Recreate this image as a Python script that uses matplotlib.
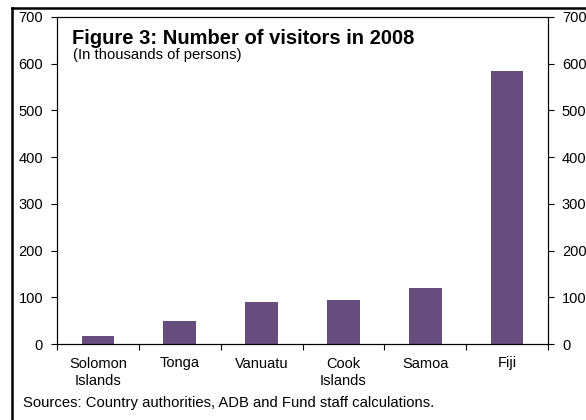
import matplotlib.pyplot as plt
import numpy as np
from matplotlib.lines import Line2D

plt.rcParams['font.family'] = ['Liberation Sans', 'DejaVu Sans']

countries = ["Solomon\nIslands", "Tonga", "Vanuatu", "Cook\nIslands", "Samoa", "Fiji"]
visitors = [17, 49, 90, 94, 120, 585]
yticks = [0, 100, 200, 300, 400, 500, 600, 700]

bar_color = "#674C7E"

fig = plt.figure(figsize=(5.86, 4.2), dpi=100)
ax = fig.add_axes([57 / 586, 1 - 344 / 420, (548 - 57) / 586, (344 - 17) / 420])

x = np.arange(len(countries))
ax.bar(x, visitors, width=0.4, color=bar_color, zorder=2)

ax.set_xlim(-0.5, len(countries) - 0.5)
ax.set_ylim(0, 700)
ax.set_yticks(yticks)
ax.set_xticks(x)
ax.set_xticklabels(countries, fontsize=10.5, linespacing=1.3)
ax.set_xticks(np.arange(-0.5, len(countries) + 0.5, 1), minor=True)
ax.tick_params(axis='x', which='major', length=0, pad=9)
ax.tick_params(axis='x', which='minor', length=4, direction='out', width=0.8)
ax.tick_params(axis='y', length=4, direction='out', width=0.8, labelsize=10.5, pad=6)

ax2 = ax.twinx()
ax2.set_ylim(0, 700)
ax2.set_yticks(yticks)
ax2.tick_params(axis='y', length=4, direction='out', width=0.8, labelsize=10.5, pad=6)

for a in (ax, ax2):
    for s in a.spines.values():
        s.set_linewidth(0.8)

ax.text(0.0305, 0.963, "Figure 3: Number of visitors in 2008", transform=ax.transAxes,
        fontsize=14.5, fontweight='bold', va='top', ha='left')
ax.text(0.0325, 0.905, "(In thousands of persons)", transform=ax.transAxes,
        fontsize=10.7, va='top', ha='left')

fig.text(23 / 586, 1 - 403 / 420, "Sources: Country authorities, ADB and Fund staff calculations.",
         fontsize=10.7, va='center', ha='left')

# outer frame
fig.add_artist(Line2D([12 / 586, 12 / 586], [0, 1 - 8 / 420], transform=fig.transFigure,
                      color='black', linewidth=1.8))
fig.add_artist(Line2D([12 / 586, 1], [1 - 8 / 420, 1 - 8 / 420], transform=fig.transFigure,
                      color='black', linewidth=1.8))

fig.savefig("out.png", dpi=100)
